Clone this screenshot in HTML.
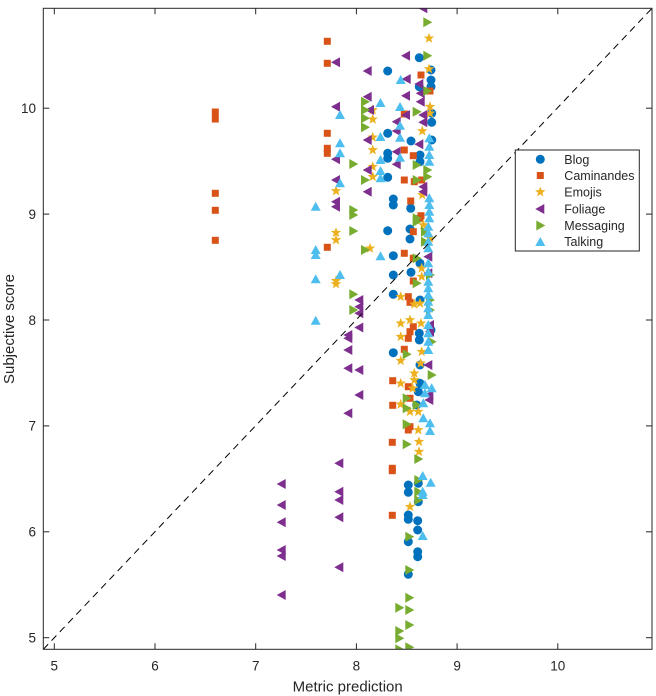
<!DOCTYPE html>
<html><head><meta charset="utf-8"><style>
html,body{margin:0;padding:0;background:#fff;}
svg{display:block;}
text{font-family:"Liberation Sans",Arial,sans-serif;fill:#262626;}
</style></head><body>
<svg width="656" height="696" viewBox="0 0 656 696" xmlns="http://www.w3.org/2000/svg">
<defs>
<circle id="c" r="4.5" fill="#0072BD"/>
<rect id="s" x="-3.5" y="-3.5" width="7" height="7" fill="#D95319"/>
<polygon id="e" fill="#EDB120" points="0,-5.5 1.35,-1.86 5.23,-1.7 2.19,0.71 3.23,4.45 0,2.3 -3.23,4.45 -2.19,0.71 -5.23,-1.7 -1.35,-1.86"/>
<polygon id="f" fill="#7E2F8E" points="-5,0 4,-5 4,5"/>
<polygon id="m" fill="#77AC30" points="5,0 -4,-5 -4,5"/>
<polygon id="t" fill="#4DBEEE" points="0,-5 -5,4 5,4"/>
<clipPath id="ax"><rect x="43.3" y="8.3" width="608.7" height="641"/></clipPath>
</defs>
<rect x="0" y="0" width="656" height="696" fill="#fff"/>
<g clip-path="url(#ax)">
<!-- Blog -->
<g>
<use href="#c" x="419.3" y="57.7"/><use href="#c" x="387.7" y="71"/><use href="#c" x="431" y="70"/><use href="#c" x="431" y="80"/><use href="#c" x="431" y="86.7"/><use href="#c" x="419.3" y="86.7"/><use href="#c" x="431.7" y="113.3"/><use href="#c" x="431.7" y="122.3"/><use href="#c" x="387.7" y="133.3"/><use href="#c" x="411" y="141"/><use href="#c" x="431.7" y="140"/><use href="#c" x="387.7" y="153.3"/><use href="#c" x="387.7" y="158.3"/><use href="#c" x="420" y="155"/><use href="#c" x="420" y="161.7"/><use href="#c" x="387.7" y="177.3"/><use href="#c" x="393.3" y="199"/><use href="#c" x="393.3" y="205"/><use href="#c" x="410.7" y="208.3"/><use href="#c" x="387.7" y="230.7"/><use href="#c" x="410" y="229"/><use href="#c" x="410" y="239"/><use href="#c" x="393.3" y="255.7"/><use href="#c" x="420" y="263.3"/><use href="#c" x="393.3" y="275"/><use href="#c" x="411" y="272.3"/><use href="#c" x="393.3" y="294.3"/><use href="#c" x="420" y="300"/><use href="#c" x="431" y="330"/><use href="#c" x="419.3" y="333.3"/><use href="#c" x="419.3" y="340"/><use href="#c" x="393.3" y="352.7"/><use href="#c" x="420" y="365"/><use href="#c" x="420" y="383.3"/><use href="#c" x="418.3" y="391.7"/><use href="#c" x="416.7" y="405"/><use href="#c" x="408.3" y="485"/><use href="#c" x="408.3" y="492.3"/><use href="#c" x="418.3" y="483.3"/><use href="#c" x="418.3" y="501.7"/><use href="#c" x="408.3" y="515"/><use href="#c" x="408.3" y="519.3"/><use href="#c" x="417.7" y="520.7"/><use href="#c" x="417.7" y="530"/><use href="#c" x="408.3" y="541.7"/><use href="#c" x="417.7" y="551.7"/><use href="#c" x="417.7" y="556.7"/><use href="#c" x="408.3" y="574.3"/>
</g>
<!-- Caminandes -->
<g>
<use href="#s" x="327.3" y="41.3"/><use href="#s" x="327.3" y="63.3"/><use href="#s" x="215.3" y="112"/><use href="#s" x="215.3" y="119"/><use href="#s" x="327.3" y="133.3"/><use href="#s" x="327.3" y="148.3"/><use href="#s" x="327.3" y="153.3"/><use href="#s" x="215.3" y="193.3"/><use href="#s" x="215.3" y="210.3"/><use href="#s" x="215.3" y="240.3"/><use href="#s" x="327.3" y="247.3"/><use href="#s" x="421" y="75"/><use href="#s" x="430" y="91"/><use href="#s" x="404.3" y="114"/><use href="#s" x="404.3" y="150"/><use href="#s" x="413.3" y="155.7"/><use href="#s" x="404.3" y="180"/><use href="#s" x="414.3" y="181.7"/><use href="#s" x="421.7" y="180"/><use href="#s" x="410.7" y="201"/><use href="#s" x="421" y="215.7"/><use href="#s" x="420" y="218.3"/><use href="#s" x="413.3" y="231.7"/><use href="#s" x="404.3" y="253.3"/><use href="#s" x="413.3" y="258.3"/><use href="#s" x="413.3" y="281"/><use href="#s" x="408.3" y="296.7"/><use href="#s" x="410" y="302.3"/><use href="#s" x="413.3" y="326.7"/><use href="#s" x="410" y="331.7"/><use href="#s" x="408.3" y="338.3"/><use href="#s" x="404.3" y="349.3"/><use href="#s" x="392.7" y="380.7"/><use href="#s" x="408.3" y="386.7"/><use href="#s" x="410" y="398.3"/><use href="#s" x="392.7" y="405.3"/><use href="#s" x="410" y="426.7"/><use href="#s" x="408.3" y="430"/><use href="#s" x="392.3" y="442.3"/><use href="#s" x="392.3" y="468.3"/><use href="#s" x="392.3" y="470.7"/><use href="#s" x="392.3" y="515.3"/>
</g>
<!-- Emojis -->
<g>
<use href="#e" x="429" y="38.3"/><use href="#e" x="429" y="69"/><use href="#e" x="372.7" y="110"/><use href="#e" x="372.7" y="119.3"/><use href="#e" x="372.7" y="137.3"/><use href="#e" x="372.7" y="150"/><use href="#e" x="372.7" y="166.7"/><use href="#e" x="372.7" y="176.7"/><use href="#e" x="336" y="191"/><use href="#e" x="336" y="232.7"/><use href="#e" x="336" y="240"/><use href="#e" x="336" y="280.7"/><use href="#e" x="336" y="284"/><use href="#e" x="430" y="106.7"/><use href="#e" x="430" y="113.3"/><use href="#e" x="422.3" y="131"/><use href="#e" x="422.3" y="195"/><use href="#e" x="423.3" y="225"/><use href="#e" x="430" y="238.3"/><use href="#e" x="370" y="248.3"/><use href="#e" x="421.7" y="268.3"/><use href="#e" x="421.7" y="276.7"/><use href="#e" x="400.7" y="296.7"/><use href="#e" x="414.3" y="304.3"/><use href="#e" x="420" y="303.3"/><use href="#e" x="400.7" y="323.3"/><use href="#e" x="400.7" y="336.7"/><use href="#e" x="410" y="320"/><use href="#e" x="421" y="323.3"/><use href="#e" x="400.7" y="360.7"/><use href="#e" x="421.7" y="351.7"/><use href="#e" x="420.7" y="363.3"/><use href="#e" x="400.7" y="383.3"/><use href="#e" x="414.3" y="373.3"/><use href="#e" x="414.3" y="380"/><use href="#e" x="412.7" y="388.3"/><use href="#e" x="400.7" y="404.3"/><use href="#e" x="410" y="411.7"/><use href="#e" x="418.3" y="411.7"/><use href="#e" x="418.3" y="430"/><use href="#e" x="419" y="441.7"/><use href="#e" x="419" y="451.7"/><use href="#e" x="410" y="506.7"/>
</g>
<!-- Foliage -->
<g>
<use href="#f" x="336" y="62.3"/><use href="#f" x="367.7" y="71"/><use href="#f" x="367.7" y="96.7"/><use href="#f" x="336" y="106.7"/><use href="#f" x="370" y="110"/><use href="#f" x="367.7" y="140"/><use href="#f" x="336" y="159.3"/><use href="#f" x="367.7" y="170"/><use href="#f" x="336" y="180"/><use href="#f" x="367.7" y="191.7"/><use href="#f" x="336" y="201.7"/><use href="#f" x="336" y="206.7"/><use href="#f" x="359.3" y="300"/><use href="#f" x="359.3" y="306.7"/><use href="#f" x="359.3" y="313.3"/><use href="#f" x="359.3" y="327.5"/><use href="#f" x="348.3" y="335"/><use href="#f" x="348.3" y="338.3"/><use href="#f" x="348.3" y="350"/><use href="#f" x="348.3" y="368.3"/><use href="#f" x="359.3" y="370"/><use href="#f" x="359.3" y="395"/><use href="#f" x="348.3" y="413.3"/><use href="#f" x="339.3" y="463.3"/><use href="#f" x="339.3" y="491.7"/><use href="#f" x="339.3" y="500"/><use href="#f" x="339.3" y="517.3"/><use href="#f" x="339.3" y="567.3"/><use href="#f" x="281.7" y="484"/><use href="#f" x="281.7" y="505"/><use href="#f" x="281.7" y="522.3"/><use href="#f" x="281.7" y="550"/><use href="#f" x="281.7" y="556"/><use href="#f" x="281.7" y="595"/><use href="#f" x="423.3" y="8.3"/><use href="#f" x="406" y="55.7"/><use href="#f" x="406.7" y="79"/><use href="#f" x="419.3" y="84"/><use href="#f" x="406" y="95.7"/><use href="#f" x="420.7" y="93.3"/><use href="#f" x="420.7" y="101.7"/><use href="#f" x="406" y="115"/><use href="#f" x="423.3" y="115"/><use href="#f" x="423.3" y="122.3"/><use href="#f" x="396.7" y="121.7"/><use href="#f" x="396.7" y="131"/><use href="#f" x="419.3" y="144.3"/><use href="#f" x="396.7" y="151.7"/><use href="#f" x="396.7" y="164.3"/><use href="#f" x="423.3" y="186.7"/><use href="#f" x="423.3" y="191.7"/><use href="#f" x="428.3" y="256.7"/><use href="#f" x="428.3" y="273.3"/><use href="#f" x="430" y="325"/><use href="#f" x="430" y="331.7"/><use href="#f" x="428.3" y="365"/><use href="#f" x="429.3" y="395"/><use href="#f" x="429.3" y="400"/>
</g>
<!-- Messaging -->
<g>
<use href="#m" x="365" y="101.7"/><use href="#m" x="365" y="110"/><use href="#m" x="365" y="118.3"/><use href="#m" x="365" y="127.3"/><use href="#m" x="353.3" y="164"/><use href="#m" x="365" y="180"/><use href="#m" x="353.3" y="210"/><use href="#m" x="353.3" y="215"/><use href="#m" x="353.3" y="231"/><use href="#m" x="365" y="250"/><use href="#m" x="353.3" y="294.3"/><use href="#m" x="353.3" y="310"/><use href="#m" x="427.3" y="22.3"/><use href="#m" x="427.3" y="55.7"/><use href="#m" x="427.3" y="91"/><use href="#m" x="416.7" y="111.7"/><use href="#m" x="416.7" y="165"/><use href="#m" x="427.3" y="170"/><use href="#m" x="427.3" y="176.7"/><use href="#m" x="416.7" y="180"/><use href="#m" x="416.7" y="218.3"/><use href="#m" x="416.7" y="221.7"/><use href="#m" x="425" y="231.7"/><use href="#m" x="425" y="241.7"/><use href="#m" x="416.7" y="258.3"/><use href="#m" x="416.7" y="283.3"/><use href="#m" x="430" y="275"/><use href="#m" x="430" y="300"/><use href="#m" x="430" y="310"/><use href="#m" x="431.7" y="341.7"/><use href="#m" x="406.7" y="354.3"/><use href="#m" x="431.7" y="375"/><use href="#m" x="406.7" y="398.3"/><use href="#m" x="406.7" y="408.3"/><use href="#m" x="416.7" y="405"/><use href="#m" x="406.7" y="424.3"/><use href="#m" x="406.7" y="444.3"/><use href="#m" x="418.3" y="459"/><use href="#m" x="418.3" y="480"/><use href="#m" x="418.3" y="491.7"/><use href="#m" x="418.3" y="500"/><use href="#m" x="409.3" y="536.7"/><use href="#m" x="409.3" y="570"/><use href="#m" x="409.3" y="597.7"/><use href="#m" x="399.3" y="607.7"/><use href="#m" x="409.3" y="610"/><use href="#m" x="409.3" y="625"/><use href="#m" x="399.3" y="631"/><use href="#m" x="399.3" y="638.3"/><use href="#m" x="399.3" y="649.3"/><use href="#m" x="409.3" y="647.3"/>
</g>
<!-- Talking -->
<g>
<use href="#t" x="340" y="115"/><use href="#t" x="380.5" y="103"/><use href="#t" x="340" y="143.3"/><use href="#t" x="340" y="153.3"/><use href="#t" x="380.5" y="137"/><use href="#t" x="380.5" y="160"/><use href="#t" x="380.5" y="171"/><use href="#t" x="380.5" y="178.3"/><use href="#t" x="340" y="183.3"/><use href="#t" x="315.7" y="206.7"/><use href="#t" x="315.7" y="250"/><use href="#t" x="315.7" y="255"/><use href="#t" x="380.5" y="256.3"/><use href="#t" x="340" y="275"/><use href="#t" x="315.7" y="279.3"/><use href="#t" x="315.7" y="320.7"/><use href="#t" x="400.7" y="80"/><use href="#t" x="400" y="107"/><use href="#t" x="400" y="125.7"/><use href="#t" x="400" y="137.7"/><use href="#t" x="400" y="157.7"/><use href="#t" x="429.3" y="138.3"/><use href="#t" x="429.3" y="146.7"/><use href="#t" x="429.3" y="155"/><use href="#t" x="429.3" y="161.7"/><use href="#t" x="429.3" y="198.3"/><use href="#t" x="429.3" y="205"/><use href="#t" x="429.3" y="211.7"/><use href="#t" x="429.3" y="218.3"/><use href="#t" x="428.3" y="226.7"/><use href="#t" x="428.3" y="233.3"/><use href="#t" x="428.3" y="241.7"/><use href="#t" x="428.3" y="248.3"/><use href="#t" x="428.3" y="263.3"/><use href="#t" x="428.3" y="271.7"/><use href="#t" x="428.3" y="281.7"/><use href="#t" x="428.3" y="288.3"/><use href="#t" x="428.3" y="295"/><use href="#t" x="428.3" y="301.7"/><use href="#t" x="428.3" y="308.3"/><use href="#t" x="428.3" y="315"/><use href="#t" x="428.3" y="325"/><use href="#t" x="428.3" y="333.3"/><use href="#t" x="428.3" y="341.7"/><use href="#t" x="428.3" y="350"/><use href="#t" x="425" y="385"/><use href="#t" x="431.7" y="388.3"/><use href="#t" x="425" y="393.3"/><use href="#t" x="423.3" y="403.3"/><use href="#t" x="423.3" y="418.3"/><use href="#t" x="430" y="423.3"/><use href="#t" x="430" y="431"/><use href="#t" x="422.7" y="476"/><use href="#t" x="430.7" y="482.7"/><use href="#t" x="422.7" y="491.7"/><use href="#t" x="422.7" y="495"/><use href="#t" x="422.7" y="536"/>
</g>
<line x1="43.3" y1="649.3" x2="652" y2="8.3" stroke="#000" stroke-width="1" stroke-dasharray="7,5"/>
</g>
<!-- axes box -->
<rect x="43.3" y="8.3" width="608.7" height="641" fill="none" stroke="#262626" stroke-width="1"/>
<g stroke="#262626" stroke-width="1">
<!-- x ticks bottom/top -->
<line x1="54.3" y1="649.3" x2="54.3" y2="643.3"/><line x1="155" y1="649.3" x2="155" y2="643.3"/><line x1="255.7" y1="649.3" x2="255.7" y2="643.3"/><line x1="356.4" y1="649.3" x2="356.4" y2="643.3"/><line x1="457.1" y1="649.3" x2="457.1" y2="643.3"/><line x1="557.8" y1="649.3" x2="557.8" y2="643.3"/>
<line x1="54.3" y1="8.3" x2="54.3" y2="14.3"/><line x1="155" y1="8.3" x2="155" y2="14.3"/><line x1="255.7" y1="8.3" x2="255.7" y2="14.3"/><line x1="356.4" y1="8.3" x2="356.4" y2="14.3"/><line x1="457.1" y1="8.3" x2="457.1" y2="14.3"/><line x1="557.8" y1="8.3" x2="557.8" y2="14.3"/>
<!-- y ticks left/right -->
<line x1="43.3" y1="637.7" x2="49.3" y2="637.7"/><line x1="43.3" y1="531.8" x2="49.3" y2="531.8"/><line x1="43.3" y1="425.9" x2="49.3" y2="425.9"/><line x1="43.3" y1="320" x2="49.3" y2="320"/><line x1="43.3" y1="214.1" x2="49.3" y2="214.1"/><line x1="43.3" y1="108.2" x2="49.3" y2="108.2"/>
<line x1="652" y1="637.7" x2="646" y2="637.7"/><line x1="652" y1="531.8" x2="646" y2="531.8"/><line x1="652" y1="425.9" x2="646" y2="425.9"/><line x1="652" y1="320" x2="646" y2="320"/><line x1="652" y1="214.1" x2="646" y2="214.1"/><line x1="652" y1="108.2" x2="646" y2="108.2"/>
</g>
<!-- tick labels -->
<g font-size="13.5" text-anchor="middle">
<text x="54.3" y="670.5">5</text><text x="155" y="670.5">6</text><text x="255.7" y="670.5">7</text><text x="356.4" y="670.5">8</text><text x="457.1" y="670.5">9</text><text x="557.8" y="670.5">10</text>
</g>
<g font-size="13.5" text-anchor="end">
<text x="36" y="642.5">5</text><text x="36" y="536.6">6</text><text x="36" y="430.7">7</text><text x="36" y="324.8">8</text><text x="36" y="218.9">9</text><text x="36" y="113">10</text>
</g>
<text x="347.7" y="691.5" font-size="15" text-anchor="middle">Metric prediction</text>
<text transform="translate(14,329) rotate(-90)" font-size="15" text-anchor="middle">Subjective score</text>
<!-- legend -->
<rect x="515.3" y="150" width="124" height="101" fill="#fff" stroke="#262626" stroke-width="1"/>
<use href="#c" x="540.3" y="159.3"/>
<use href="#s" x="540.3" y="175.5"/>
<use href="#e" x="540.3" y="192"/>
<use href="#f" x="540.3" y="209"/>
<use href="#m" x="540.3" y="225.5"/>
<use href="#t" x="540.3" y="242"/>
<g font-size="12.5">
<text x="564.3" y="163.8">Blog</text>
<text x="564.3" y="180">Caminandes</text>
<text x="564.3" y="196.5">Emojis</text>
<text x="564.3" y="213.5">Foliage</text>
<text x="564.3" y="230">Messaging</text>
<text x="564.3" y="246">Talking</text>
</g>
</svg>
</body></html>
